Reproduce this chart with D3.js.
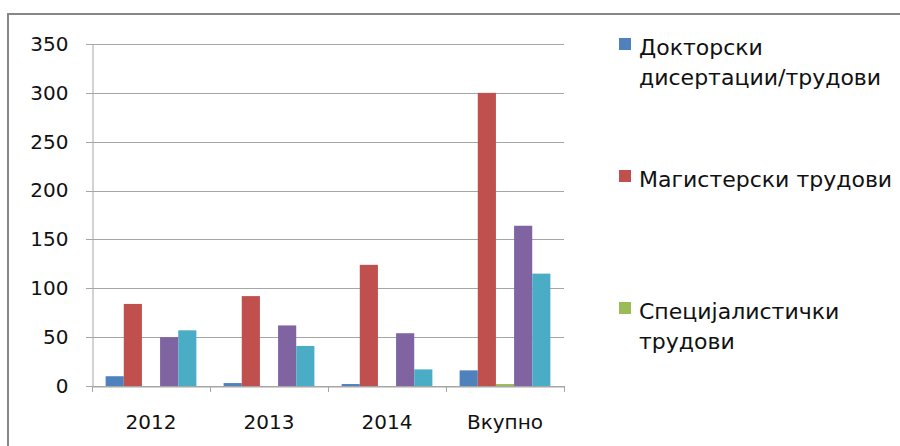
<!DOCTYPE html>
<html>
<head>
<meta charset="utf-8">
<script src="https://cdn.jsdelivr.net/npm/d3@7"></script>
<style>
  body { margin: 0; background: #fff; }
  svg { display: block; font-family: "DejaVu Sans", sans-serif; }
</style>
</head>
<body>
<div id="chart"></div>
<script>
// values
var categories = ["2012", "2013", "2014", "Вкупно"];
var doktorski = [10, 3, 2, 16];
var magisterski = [84, 92, 124, 300];
var specijalisticki = [0, 0, 0, 2];
var series4 = [50, 62, 54, 164];
var series5 = [57, 41, 17, 115];
var yTicks = [0, 50, 100, 150, 200, 250, 300, 350];
var legendNames = [["Докторски", "дисертации/трудови"], ["Магистерски трудови"], ["Специјалистички", "трудови"]];

var colors = ["#4F81BD", "#C0504D", "#9BBB59", "#8064A2", "#4BACC6"];
var allSeries = [doktorski, magisterski, specijalisticki, series4, series5];

var W = 900, H = 446;
var svg = d3.select("#chart").append("svg").attr("width", W).attr("height", H);

// chart area frame (only top and left edge are visible)
svg.append("path")
  .attr("d", "M8,446 L8,14 L900,14")
  .attr("fill", "none").attr("stroke", "#878787").attr("stroke-width", 2);

var x0 = d3.scaleBand().domain(categories).range([92, 564]).padding(0);
var x1 = d3.scaleBand().domain(d3.range(allSeries.length)).range([0, x0.bandwidth()])
  .paddingInner(0).paddingOuter(0.75);
var y = d3.scaleLinear().domain([0, 350]).range([386, 44]);

// gridlines
svg.append("g").selectAll("line").data(yTicks).enter().append("line")
  .attr("x1", 86).attr("x2", 564)
  .attr("y1", d => Math.round(y(d)) + 0.5).attr("y2", d => Math.round(y(d)) + 0.5)
  .attr("stroke", "#a6a6a6").attr("stroke-width", 1);

// y axis
var yAxis = svg.append("g").attr("transform", "translate(92.5,0)")
  .call(d3.axisLeft(y).tickValues(yTicks).tickSize(0).tickPadding(24));
yAxis.select(".domain").attr("stroke", "#a6a6a6");
yAxis.selectAll("text").attr("font-size", 20).attr("fill", "#111")
  .attr("font-family", "DejaVu Sans, sans-serif");

// bars
var groups = svg.append("g").selectAll("g").data(categories).enter().append("g")
  .attr("transform", d => "translate(" + x0(d) + ",0)");
groups.selectAll("rect")
  .data((d, i) => allSeries.map((s, k) => ({ k: k, v: s[i] })))
  .enter().append("rect")
  .attr("x", d => x1(d.k))
  .attr("width", x1.bandwidth())
  .attr("y", d => y(d.v))
  .attr("height", d => y(0) - y(d.v))
  .attr("fill", d => colors[d.k]);

// x axis
var xAxis = svg.append("g").attr("transform", "translate(0," + (Math.round(y(0)) + 0.5) + ")")
  .call(d3.axisBottom(x0).tickSize(0).tickPadding(28));
xAxis.select(".domain").attr("stroke", "#a6a6a6");
xAxis.selectAll("text").attr("font-size", 20).attr("fill", "#111")
  .attr("font-family", "DejaVu Sans, sans-serif");
svg.append("g").selectAll("line").data(categories.concat([null])).enter().append("line")
  .attr("x1", (d, i) => Math.round(92 + i * x0.step()) + 0.5)
  .attr("x2", (d, i) => Math.round(92 + i * x0.step()) + 0.5)
  .attr("y1", y(0)).attr("y2", y(0) + 6)
  .attr("stroke", "#a6a6a6");

// legend
var legend = svg.append("g").selectAll("g").data(legendNames).enter().append("g")
  .attr("transform", (d, i) => "translate(619," + (55 + i * 132) + ")");
legend.append("rect").attr("x", 0).attr("y", -17).attr("width", 12).attr("height", 12)
  .attr("fill", (d, i) => colors[i]);
legend.append("text").attr("x", 20).attr("y", 0)
  .attr("font-size", 22).attr("fill", "#111")
  .selectAll("tspan").data(d => d).enter().append("tspan")
  .attr("x", 20).attr("dy", (d, j) => j ? 30 : 0)
  .text(d => d);
</script>
</body>
</html>
